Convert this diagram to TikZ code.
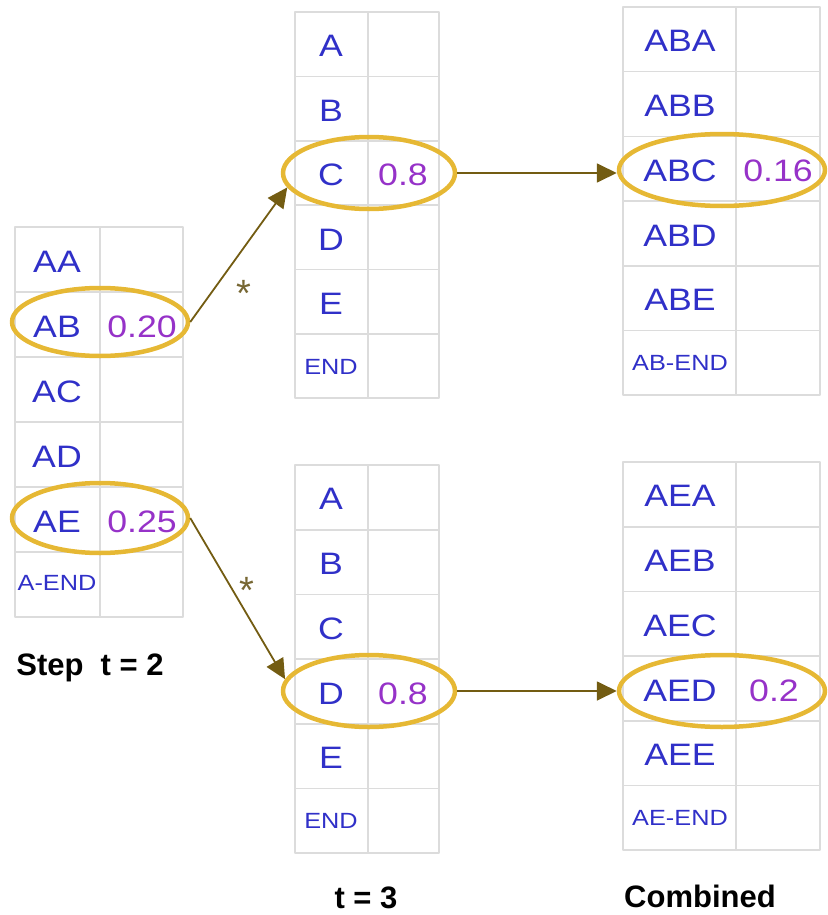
\documentclass[tikz,border=0pt]{standalone}
\usepackage{fontspec}
\setmainfont{Liberation Sans}
\newfontfamily\cellfont[FakeStretch=1.15]{Liberation Sans}
\usetikzlibrary{arrows.meta,shapes.geometric}
\definecolor{cellblue}{RGB}{48,48,200}
\definecolor{probpurple}{RGB}{150,50,200}
\definecolor{ringgold}{RGB}{230,184,52}
\definecolor{linkbrown}{RGB}{115,92,18}
\definecolor{gridgray}{RGB}{220,220,220}
\begin{document}
\begin{tikzpicture}[x=1pt, y=-1pt, line join=round,
  grid/.style={gridgray, line width=1.6pt},
  lbl/.style={text=cellblue, inner sep=0pt, font=\cellfont\fontsize{31}{31}\selectfont},
  endlbl/.style={lbl, font=\cellfont\fontsize{22}{22}\selectfont},
  prob/.style={text=probpurple, inner sep=0pt, font=\cellfont\fontsize{31}{31}\selectfont},
  ring/.style={ellipse, draw=ringgold, line width=4.5pt, inner sep=0pt},
  link/.style={linkbrown, line width=1.8pt, -{Triangle[length=20pt,width=19pt]}},
  times/.style={text=linkbrown!70!gray, inner sep=0pt, font=\fontsize{38}{38}\selectfont},
  caption/.style={anchor=base, font=\bfseries\fontsize{31}{31}\selectfont}]
\useasboundingbox (0,0) rectangle (827,915);

% step t = 2
\draw[grid] (15,227) rectangle (183,617) (100,227) -- (100,617);
\foreach \i in {1,...,5} \draw[grid] (15,227+65*\i) -- (183,227+65*\i);
\foreach \t [count=\i] in {AA,AB,AC,AD,AE} \node[lbl] (s\t) at (57,196.5+65*\i) {\t};
\node[endlbl] (sEND) at (57,583) {A-END};
\node[prob] (pAB) at (142,326.5) {0.20};
\node[prob] (pAE) at (142,521.5) {0.25};

% t = 3, upper
\draw[grid] (295,12) rectangle (439,398) (368,12) -- (368,398);
\foreach \i in {1,...,5} \draw[grid] (295,12+64.4*\i) -- (439,12+64.4*\i);
\foreach \t [count=\i] in {A,B,C,D,E} \node[lbl] (u\t) at (331,-18.2+64.4*\i) {\t};
\node[endlbl] (uEND) at (331,367) {END};
\node[prob] (pC) at (403,175) {0.8};

% t = 3, lower
\draw[grid] (295,465) rectangle (439,853) (368,465) -- (368,853);
\foreach \i in {1,...,5} \draw[grid] (295,465+64.7*\i) -- (439,465+64.7*\i);
\foreach \t [count=\i] in {A,B,C,D,E} \node[lbl] (l\t) at (331,434.6+64.7*\i) {\t};
\node[endlbl] (lEND) at (331,821) {END};
\node[prob] (pD) at (403,693.4) {0.8};

% combined, upper
\draw[grid] (623,7) rectangle (820,395) (736,7) -- (736,395);
\foreach \i in {1,...,5} \draw[grid] (623,7+64.7*\i) -- (820,7+64.7*\i);
\foreach \t [count=\i] in {ABA,ABB,ABC,ABD,ABE} \node[lbl] (c\t) at (680,-23.4+64.7*\i) {\t};
\node[endlbl] (cABEND) at (680,363) {AB-END};
\node[prob] (pABC) at (778,170.7) {0.16};

% combined, lower
\draw[grid] (623,462) rectangle (820,850) (736,462) -- (736,850);
\foreach \i in {1,...,5} \draw[grid] (623,462+64.7*\i) -- (820,462+64.7*\i);
\foreach \t [count=\i] in {AEA,AEB,AEC,AED,AEE} \node[lbl] (c\t) at (680,431.6+64.7*\i) {\t};
\node[endlbl] (cAEEND) at (680,818) {AE-END};
\node[prob] (pAED) at (774,690.4) {0.2};

% rings round the chosen rows
\node[ring, minimum width=176pt, minimum height=68pt] (ab) at (100,322) {};
\node[ring, minimum width=176pt, minimum height=70pt] (ae) at (100,518) {};
\node[ring, minimum width=172pt, minimum height=72pt] (c) at (369,173) {};
\node[ring, minimum width=172pt, minimum height=72pt] (d) at (369,691) {};
\node[ring, minimum width=206pt, minimum height=72pt] (abc) at (722,170) {};
\node[ring, minimum width=206pt, minimum height=72pt] (aed) at (722,691) {};

\draw[link] (ab.east) -- (c.190);
\draw[link] (ae.east) -- (d.172);
\draw[link] (c.east) -- (c.east -| abc.west);
\draw[link] (d.east) -- (d.east -| aed.west);
\node[times] (m1) at (244,293) {*};
\node[times] (m2) at (247,590) {*};

\node[caption] (capA) at (90,675) {Step~~t = 2};
\node[caption] (capB) at (366,908) {t = 3};
\node[caption] (capC) at (700,907) {Combined};
\end{tikzpicture}
\end{document}
